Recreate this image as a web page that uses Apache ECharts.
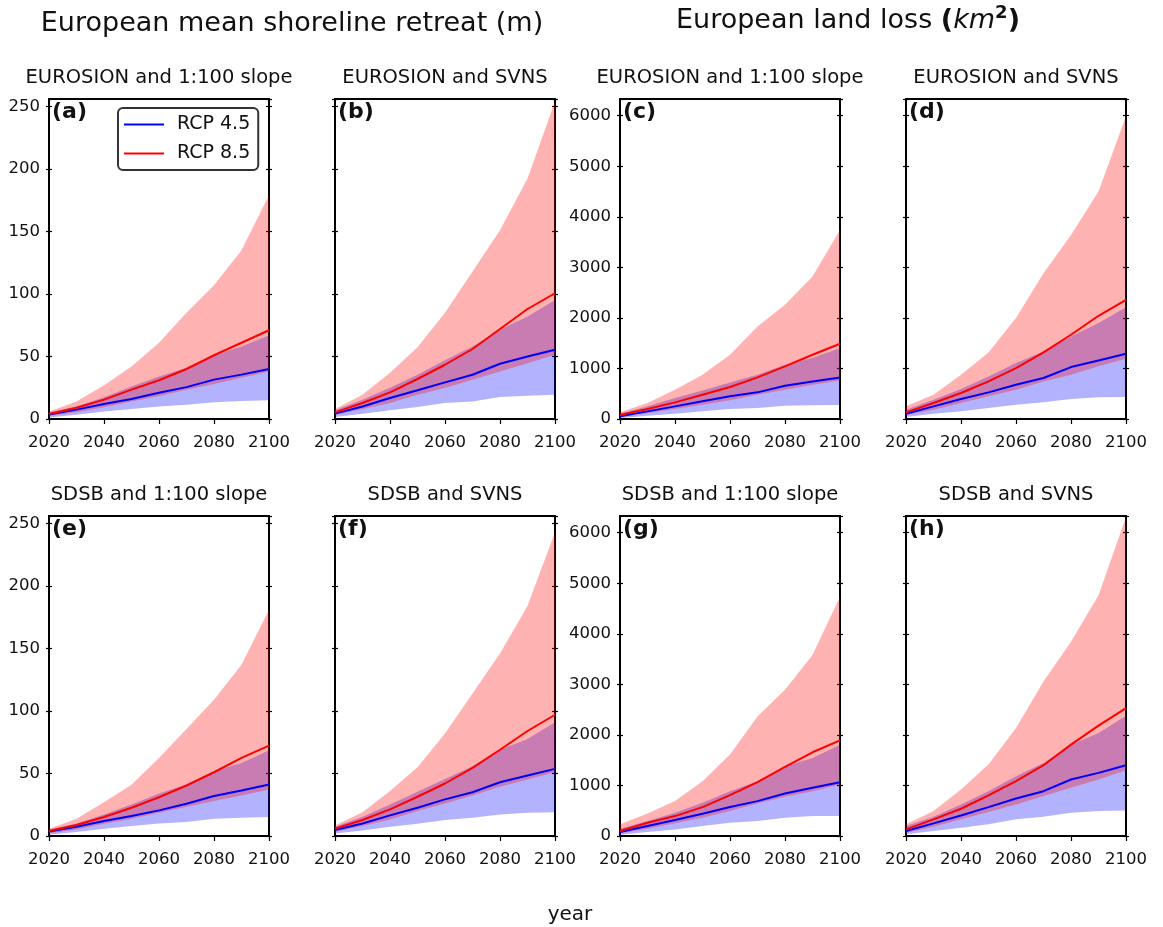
<!DOCTYPE html>
<html>
<head>
<meta charset="utf-8">
<script src="https://cdn.jsdelivr.net/npm/echarts@6/dist/echarts.min.js"></script>
<style>html,body{margin:0;padding:0;background:#fff}#c{width:1163px;height:927px}</style>
</head>
<body>
<div id="c"></div>
<script>
// ---- data ----
var years = ['2020','2030','2040','2050','2060','2070','2080','2090','2100'];
var panelTitles = ['EUROSION and 1:100 slope','EUROSION and SVNS','EUROSION and 1:100 slope','EUROSION and SVNS',
                   'SDSB and 1:100 slope','SDSB and SVNS','SDSB and 1:100 slope','SDSB and SVNS'];
var panelLabels = ['(a)','(b)','(c)','(d)','(e)','(f)','(g)','(h)'];
var seriesNames = ['RCP 4.5','RCP 8.5'];

// panel a
var aBlueLo  = [1.3,3.5,6,8,10,11.5,13.5,14.5,15];
var aBlueMed = [3.5,7.5,12,16,21,25.5,31.5,35.5,40];
var aBlueHi  = [5.5,10,17.5,26,34,41,51,58,67];
var aRedLo   = [2.5,5.5,9.5,14,18.5,23.5,28,33,38];
var aRedMed  = [4,9,15.5,23.5,31,40,51,61,71];
var aRedHi   = [6,14,27,42,61,85,107,135,179];
// panel b
var bBlueLo  = [1.6,4.3,7,9.6,12.8,14.1,17.6,18.6,19.4];
var bBlueMed = [4.3,10,16.8,23,29.3,35.4,44.2,50,55.4];
var bBlueHi  = [7,15.5,25,35.4,47,58,71.4,82,95.3];
var bRedLo   = [3.5,8,12.8,19.4,24.8,31.4,38,44.7,51.4];
var bRedMed  = [5.3,12.8,21.3,32,43.4,56,72,88,100.6];
var bRedHi   = [8,19.5,37,57.5,85,118,151,192.5,254];
// panel c
var cBlueLo  = [20,66,105,151,198,217,263,270,277];
var cBlueMed = [53,151,250,349,448,527,659,744,823];
var cBlueHi  = [105,250,415,566,724,876,1073,1205,1403];
var cRedLo   = [40,119,198,283,369,481,580,678,764];
var cRedMed  = [79,198,329,481,632,823,1041,1271,1488];
var cRedHi   = [132,316,580,876,1271,1831,2259,2819,3741];
// panel d
var dBlueLo  = [40,105,151,217,283,329,395,428,435];
var dBlueMed = [105,250,395,527,678,810,1027,1159,1291];
var dBlueHi  = [184,382,593,843,1106,1337,1633,1897,2213];
var dRedLo   = [79,184,316,448,580,744,876,1041,1192];
var dRedMed  = [132,316,514,744,1008,1317,1666,2042,2358];
var dRedHi   = [250,481,876,1317,1996,2885,3642,4498,5994];
// panel e
var eBlueLo  = [1.1,3.2,5.9,8,10,11.2,13.8,14.6,15.2];
var eBlueMed = [3.5,7.4,12,16,20.5,25.8,32,36.4,41.2];
var eBlueHi  = [5.3,10,17.3,25.3,34,41.2,51.9,58.5,68.6];
var eRedLo   = [2.1,5.3,9.8,13.8,18.6,23.4,28,32.4,37.2];
var eRedMed  = [4,8.8,15.2,22.6,31,40.4,51,62.5,72.3];
var eRedHi   = [5.9,13.8,27,41,62.5,85.6,109,137,181];
// panel f
var fBlueLo  = [2.1,4.5,7.4,9.8,12.8,14.6,17.3,18.6,19.1];
var fBlueMed = [4.8,10,16.5,22.6,29.3,35,43,48.4,53.7];
var fBlueHi  = [7.4,15.4,25.3,35.4,45.7,55.8,69,77.7,91];
var fRedLo   = [3.5,8,13.3,20,26,32.4,39.4,45.2,51];
var fRedMed  = [5.9,12.8,21.3,31.4,42,54.5,69,84,97];
var fRedHi   = [8.5,19,36,55,82,114,146,184,243];
// panel g
var gBlueLo  = [26,79,131,197,263,296,361,394,394];
var gBlueMed = [79,197,315,440,572,690,841,953,1065];
var gBlueHi  = [145,296,460,657,887,1084,1380,1544,1807];
var gRedLo   = [53,145,250,361,493,644,775,887,1019];
var gRedMed  = [99,263,394,572,808,1065,1367,1656,1893];
var gRedHi   = [230,447,690,1084,1610,2366,2891,3581,4731];
// panel h
var hBlueLo  = [33,99,164,230,329,381,460,493,506];
var hBlueMed = [99,250,407,572,743,887,1117,1249,1400];
var hBlueHi  = [197,381,624,887,1183,1446,1807,2037,2379];
var hRedLo   = [66,184,329,473,624,789,953,1117,1301];
var hRedMed  = [131,329,539,802,1084,1400,1807,2182,2530];
var hRedHi   = [230,493,920,1413,2136,3056,3844,4764,6309];

var panels = [
  [aBlueLo,aBlueMed,aBlueHi,aRedLo,aRedMed,aRedHi],
  [bBlueLo,bBlueMed,bBlueHi,bRedLo,bRedMed,bRedHi],
  [cBlueLo,cBlueMed,cBlueHi,cRedLo,cRedMed,cRedHi],
  [dBlueLo,dBlueMed,dBlueHi,dRedLo,dRedMed,dRedHi],
  [eBlueLo,eBlueMed,eBlueHi,eRedLo,eRedMed,eRedHi],
  [fBlueLo,fBlueMed,fBlueHi,fRedLo,fRedMed,fRedHi],
  [gBlueLo,gBlueMed,gBlueHi,gRedLo,gRedMed,gRedHi],
  [hBlueLo,hBlueMed,hBlueHi,hRedLo,hRedMed,hRedHi]
];

(function () {
  var FONT = '"DejaVu Sans", Verdana, sans-serif';
  var colLeft = [49, 335, 620, 906];
  var rowTop = [99, 516];
  var gridW = 220, gridH = 320;

  var grids = [], xAxes = [], yAxes = [], seriesList = [], graphics = [];

  function diff(hi, lo) { return hi.map(function (v, i) { return Math.round((v - lo[i]) * 1000) / 1000; }); }

  function makeY(p, ymax, yint, position, showLbl, inside) {
    return {
      type: 'value', gridIndex: p, min: 0, max: ymax, interval: yint, position: position,
      splitLine: {show: false},
      axisLine: {show: false},
      axisTick: {show: true, inside: inside, length: 3, lineStyle: {color: '#000', width: 1.2}},
      axisLabel: {show: showLbl, color: '#111', fontSize: 16.5, fontFamily: FONT, margin: 9, showMaxLabel: false,
                  formatter: function (v) { return String(v); }}
    };
  }

  function mkLine(p, yIdx, name, data, extra) {
    var s = {type: 'line', xAxisIndex: p, yAxisIndex: yIdx, name: name, data: data,
             symbol: 'none', showSymbol: false, silent: true, animation: false};
    for (var k in extra) s[k] = extra[k];
    return s;
  }

  for (var p = 0; p < 8; p++) {
    var col = p % 4, row = Math.floor(p / 4);
    var gLeft = colLeft[col], gTop = rowTop[row];
    var isLand = (col >= 2);
    var ymax = isLand ? 6330 : 256;
    var yint = isLand ? 1000 : 50;
    var showLbl = (col === 0 || col === 2);
    grids.push({left: gLeft, top: gTop, width: gridW, height: gridH, show: true,
                borderColor: '#000', borderWidth: 2});
    xAxes.push({type: 'category', gridIndex: p, data: years, boundaryGap: false,
      axisLine: {show: true, lineStyle: {color: '#000', width: 2}},
      axisTick: {show: true, interval: 1, inside: false, length: 5, lineStyle: {color: '#000', width: 1.2}},
      axisLabel: {show: true, interval: 1, color: '#111', fontSize: 16.5, fontFamily: FONT, margin: 15},
      splitLine: {show: false}});
    yAxes.push(makeY(p, ymax, yint, 'left', showLbl, false));
    var mainY = yAxes.length - 1;
    yAxes.push(makeY(p, ymax, yint, 'left', false, true));
    yAxes.push(makeY(p, ymax, yint, 'right', false, true));
    yAxes.push(makeY(p, ymax, yint, 'right', false, false));

    var d = panels[p];
    seriesList.push(mkLine(p, mainY, 'b45lo' + p, d[0], {stack: 'blue' + p, lineStyle: {opacity: 0, width: 0}}));
    seriesList.push(mkLine(p, mainY, 'b45band' + p, diff(d[2], d[0]), {stack: 'blue' + p,
      lineStyle: {opacity: 0, width: 0}, areaStyle: {color: 'rgb(0,0,255)', opacity: 0.3}}));
    seriesList.push(mkLine(p, mainY, 'b85lo' + p, d[3], {stack: 'red' + p, lineStyle: {opacity: 0, width: 0}}));
    seriesList.push(mkLine(p, mainY, 'b85band' + p, diff(d[5], d[3]), {stack: 'red' + p,
      lineStyle: {opacity: 0, width: 0}, areaStyle: {color: 'rgb(255,0,0)', opacity: 0.3}}));
    seriesList.push(mkLine(p, mainY, seriesNames[0], d[1], {z: 5, lineStyle: {color: '#0000ff', width: 2}, itemStyle: {color: '#0000ff'}}));
    seriesList.push(mkLine(p, mainY, seriesNames[1], d[4], {z: 5, lineStyle: {color: '#ff0000', width: 2}, itemStyle: {color: '#ff0000'}}));

    graphics.push({type: 'text', z: 100, style: {text: panelTitles[p], x: gLeft + gridW / 2, y: gTop - 21,
      textAlign: 'center', textVerticalAlign: 'middle', font: '19.5px ' + FONT, fill: '#111'}});
    graphics.push({type: 'text', z: 100, style: {text: panelLabels[p], x: gLeft + 3, y: gTop + 13,
      textAlign: 'left', textVerticalAlign: 'middle', font: 'bold 22px ' + FONT, fill: '#111'}});
  }

  graphics.push({type: 'text', z: 100, style: {text: 'European mean shoreline retreat (m)', x: 292, y: 24,
    textAlign: 'center', textVerticalAlign: 'middle', font: '27px ' + FONT, fill: '#111'}});

  // land-loss title pieces, placed side by side using measured widths
  var ctx = document.createElement('canvas').getContext('2d');
  var pieces = [
    {t: 'European land loss ', f: '27px ' + FONT, dy: 0},
    {t: '(', f: 'bold 27px ' + FONT, dy: 0},
    {t: 'km', f: 'italic 27px ' + FONT, dy: 0},
    {t: '2', f: 'bold 18px ' + FONT, dy: -8},
    {t: ')', f: 'bold 27px ' + FONT, dy: 0}
  ];
  var total = 0;
  pieces.forEach(function (pc) { ctx.font = pc.f; pc.w = ctx.measureText(pc.t).width; total += pc.w; });
  var px = 848 - total / 2;
  pieces.forEach(function (pc) {
    graphics.push({type: 'text', z: 100, style: {text: pc.t, x: px, y: 21 + pc.dy,
      textAlign: 'left', textVerticalAlign: 'middle', font: pc.f, fill: '#111'}});
    px += pc.w;
  });

  graphics.push({type: 'text', z: 100, style: {text: 'year', x: 570, y: 915,
    textAlign: 'center', textVerticalAlign: 'middle', font: '20px ' + FONT, fill: '#111'}});

  var chart = echarts.init(document.getElementById('c'), null, {renderer: 'canvas'});
  chart.setOption({
    animation: false,
    backgroundColor: '#fff',
    grid: grids,
    xAxis: xAxes,
    yAxis: yAxes,
    legend: {
      data: [{name: seriesNames[0], itemStyle: {color: '#0000ff'}}, {name: seriesNames[1], itemStyle: {color: '#ff0000'}}],
      orient: 'vertical', left: 118, top: 108, icon: 'rect',
      padding: [6, 8, 6, 6], itemGap: 8, itemWidth: 40, itemHeight: 2,
      backgroundColor: '#fff', borderColor: '#333', borderWidth: 2, borderRadius: 5,
      textStyle: {fontSize: 19, fontFamily: FONT, color: '#111', padding: [0, 0, 0, 8], lineHeight: 21},
      selectedMode: false, z: 50
    },
    graphic: graphics,
    series: seriesList
  });
})();
</script>
</body>
</html>
